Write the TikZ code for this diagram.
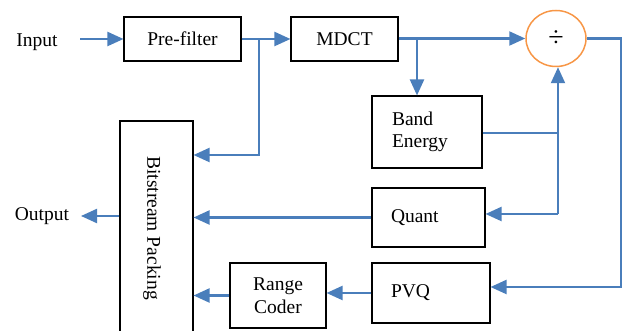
\documentclass[tikz,border=0pt]{standalone}
\usepackage{fontspec}
\setmainfont{Liberation Serif}
\usetikzlibrary{arrows.meta,calc,shapes.geometric}
\definecolor{lineblue}{RGB}{74,126,187}
\definecolor{divorange}{RGB}{247,150,70}
\begin{document}
\begin{tikzpicture}[x=1pt,y=-1pt,
  blk/.style={draw=black,line width=1.1pt,fill=white,inner sep=0pt,font=\fontsize{19.5}{22.5}\selectfont},
  lbl/.style={inner sep=0pt,font=\fontsize{19.5}{22.5}\selectfont},
  conn/.style={draw=lineblue,line width=2.2pt},
  arr/.style={conn,-{Triangle[length=16pt,width=14pt]}}]
\useasboundingbox (0,0) rectangle (625,331);
\node[lbl] (in) at (37,42) {Input};
\node[lbl] (out) at (42,216) {Output};
\node[blk,minimum width=117pt,minimum height=44pt] (pre) at (182.5,39) {Pre-filter};
\node[blk,minimum width=107pt,minimum height=44pt] (mdct) at (344.5,39) {MDCT};
\node[draw=divorange,line width=1.5pt,ellipse,minimum width=60pt,minimum height=56pt,inner sep=0pt,font=\fontsize{28}{30}\selectfont] (div) at (556,38.5) {÷};
\node[blk,minimum width=110pt,minimum height=72pt,text width=70pt,inner xsep=20pt,align=left] (be) at (427,132) {Band\\Energy};
\node[blk,minimum width=113pt,minimum height=59pt,text width=75pt,inner xsep=19pt,align=left] (q) at (428.5,217.5) {Quant};
\node[blk,minimum width=118pt,minimum height=60pt,text width=80pt,inner xsep=19pt,align=left] (pvq) at (431,293) {PVQ};
\node[blk,minimum width=96pt,minimum height=65pt,align=center] (rc) at (278,295.5) {Range\\Coder};
\node[blk,minimum width=73pt,minimum height=216pt] (bp) at (156.5,229) {};
\node[lbl,rotate=-90] (bpt) at (152,228) {Bitstream Packing};
\coordinate (c1) at (259,39);
\coordinate (c2) at (417,38.5);
\coordinate (c3) at (558,133);
\coordinate (c4) at (558,214);
\coordinate (c5) at (621,38.5);
\coordinate (c6) at (621,287);
\coordinate (ia) at (80,39);
\coordinate (oa) at (81,216);
\draw[arr] (ia) -- (pre.west);
\draw[arr] (pre.east) -- (mdct.west);
\draw[arr] (c1) -- (c1 |- 0,155) -- (bp.east |- 0,155);
\draw[arr] (mdct.east |- div.west) -- (div.west);
\draw[arr] (c2) -- (be.north -| c2);
\draw[conn] (be.east |- c3) -- (c3);
\draw[arr] (c4) -- (div.south -| c4);
\draw[arr] (c4) -- (q.east |- c4);
\draw[arr] (div.east) -- (c5) -- (c6) -- (pvq.east |- c6);
\draw[arr] (q.west) -- (q.west -| bp.east);
\draw[arr] (pvq.west) -- (pvq.west -| rc.east);
\draw[arr] (rc.west) -- (rc.west -| bp.east);
\draw[arr] (bp.west |- oa) -- (oa);
\end{tikzpicture}
\end{document}
